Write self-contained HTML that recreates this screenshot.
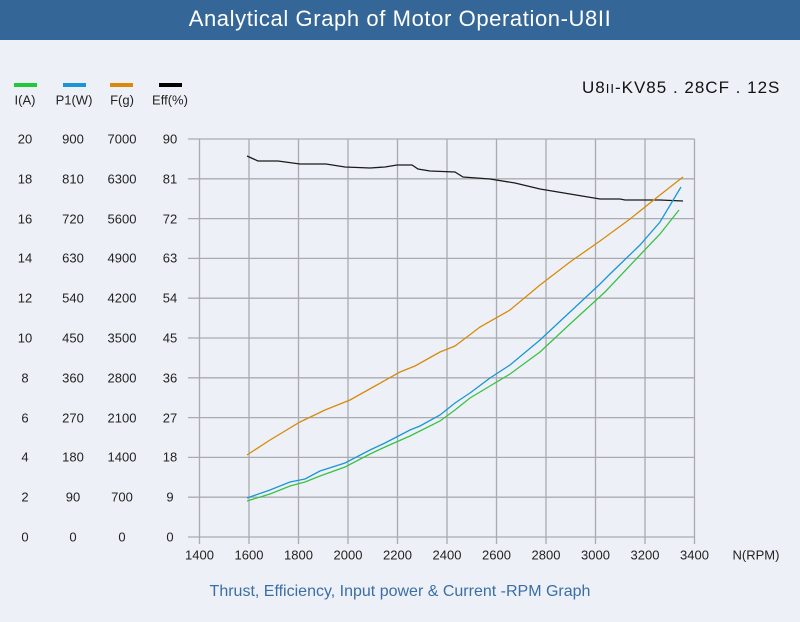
<!DOCTYPE html>
<html><head><meta charset="utf-8"><style>
body{margin:0;width:800px;height:622px;background:#edf1f7;font-family:"Liberation Sans","DejaVu Sans",sans-serif;overflow:hidden;position:relative}
.hdr{position:absolute;left:0;top:0;width:800px;height:40px;background:#346698;color:#fff;font-size:22px;text-align:center;line-height:38px;letter-spacing:0.6px}
.t{position:absolute;font-size:13px;color:#222;transform:translate(-50%,-50%);white-space:nowrap}
.bar{position:absolute;height:4px;width:23px;top:83px}
</style></head><body>
<div class="hdr">Analytical Graph of Motor Operation-U8II</div>
<div class="bar" style="left:14px;background:#22c93a"></div>
<div class="bar" style="left:63px;background:#1a96d6"></div>
<div class="bar" style="left:110px;background:#d98a0c"></div>
<div class="bar" style="left:159px;background:#000"></div>
<div class="t" style="left:25px;top:100px">I(A)</div>
<div class="t" style="left:74px;top:100px">P1(W)</div>
<div class="t" style="left:122px;top:100px">F(g)</div>
<div class="t" style="left:170px;top:100px">Eff(%)</div>
<div style="position:absolute;left:582px;top:78px;font-size:17px;color:#111;letter-spacing:1px">U8<span style="font-size:13px">II</span>-KV85 . 28CF . 12S</div>
<div id="ax"></div>
<svg width="800" height="622" style="position:absolute;left:0;top:0">
<g stroke="#a9abaf" stroke-width="1.3" fill="none" id="grid"></g>
<g fill="none" stroke-width="1.3">
<polyline stroke="#1a1a1a" points="247,156 258,161 278,161 300,164 326,164 345,167 370,168 385,167 397,165 412,165 418,169 430,171 455,172 463,177 490,179 515,183 540,189 570,194 600,199 620,199 625,200 660,200 683,201"/>
<polyline stroke="#d98a0c" points="247,455 270,440 300,422 325,410 350,400 375,386 400,372 415,366 440,352 455,346 480,327 510,310 540,285 570,262 600,241 630,219 660,195 683,177"/>
<polyline stroke="#1a96d6" points="247,498 270,490 290,482 305,479 320,471 345,463 370,450 385,443 410,430 420,426 440,415 455,403 470,393 490,378 510,365 540,340 570,312 600,284 610,274 640,245 660,222 681,187"/>
<polyline stroke="#3cc045" points="247,501 270,494 290,486 305,482 320,476 345,467 370,454 385,447 410,436 440,421 455,410 470,398 490,386 510,374 540,352 570,324 605,292 640,255 660,234 679,210"/>
</g></svg>
<div class="t" style="left:756px;top:555px">N(RPM)</div>
<div style="position:absolute;left:0;width:800px;top:583px;text-align:center;font-size:16px;color:#3a6ea5">Thrust, Efficiency, Input power &amp; Current -RPM Graph</div>
<script>
var g=document.getElementById('grid'),ax=document.getElementById('ax'),h='',s='';
for(var i=0;i<=10;i++){var y=537-i*39.8;h+='<line x1="188" y1="'+y+'" x2="694.5" y2="'+y+'"/>';
s+='<div class="t" style="left:25px;top:'+y+'px">'+(i*2)+'</div><div class="t" style="left:73px;top:'+y+'px">'+(i*90)+'</div><div class="t" style="left:122px;top:'+y+'px">'+(i*700)+'</div><div class="t" style="left:170px;top:'+y+'px">'+(i*9)+'</div>';}
for(var j=0;j<=10;j++){var x=199.5+j*49.5;h+='<line x1="'+x+'" y1="139" x2="'+x+'" y2="544"/>';s+='<div class="t" style="left:'+x+'px;top:555px">'+(1400+j*200)+'</div>';}
g.innerHTML=h;ax.innerHTML=s;
</script>
</body></html>
